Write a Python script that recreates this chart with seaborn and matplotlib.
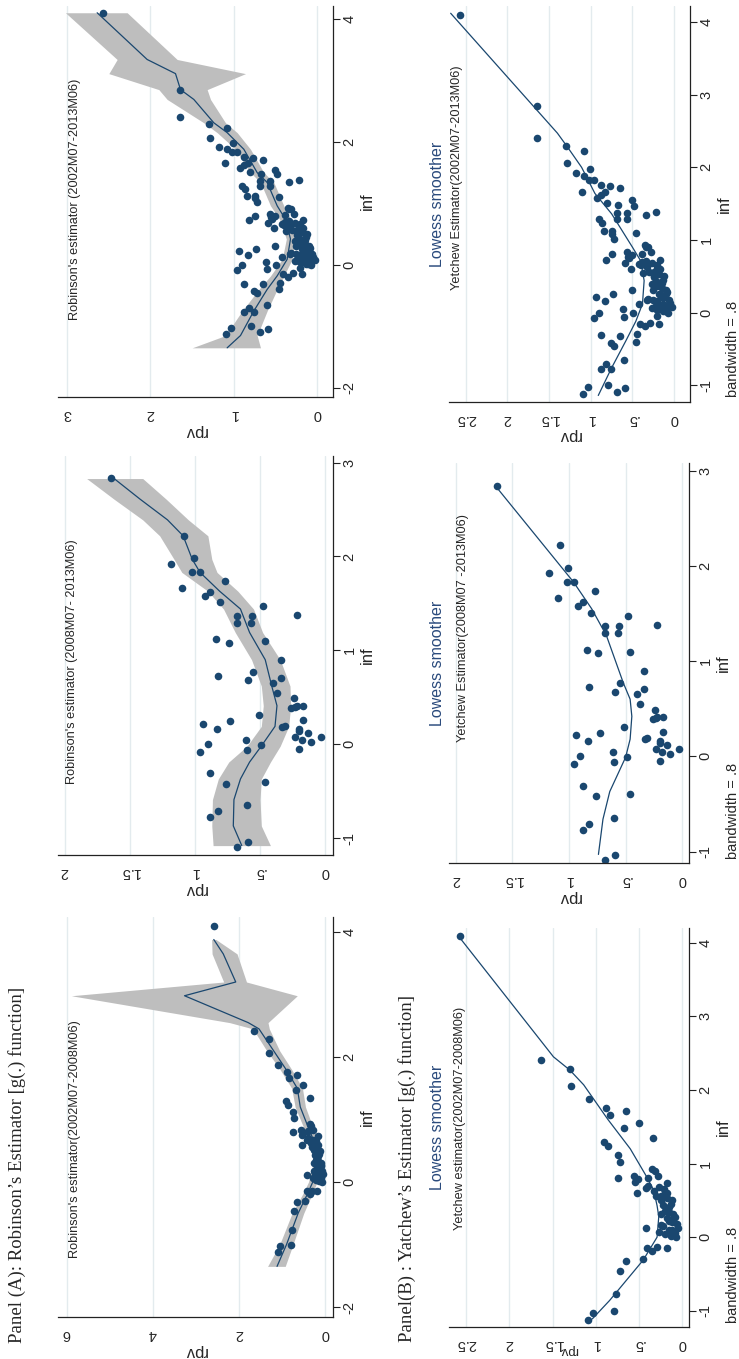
import numpy as np
import pandas as pd
import matplotlib
matplotlib.use("Agg")
import matplotlib.pyplot as plt
import seaborn as sns

sns.set_style("white")
plt.rcParams['font.family'] = ['Liberation Sans', 'DejaVu Sans']

NAVY = "#1a476f"
BAND = "#bebebe"
GRID = "#e3ebee"
W, H = 739, 1359

# --- scatter data: inf vs rpv, two sub-samples (full sample = both) ---
# 2002M07-2008M06
inf_a = [4.09, 2.41, 2.29, 2.06, 1.88, 1.76, 1.66, 1.71, 1.55, 1.48, 1.35, 1.29, 1.24, 1.12, 1.02,
         0.93, 0.90, 0.80, 0.83, 0.79, 0.75, 0.81, 0.83, 0.73, 0.67, 0.70, 0.60, 0.63, 0.68, 0.66,
         0.60, 0.56, 0.51, 0.53, 0.50, 0.41, 0.31, 0.34, 0.31, 0.28, 0.22, 0.21, 0.18, 0.17, 0.15,
         0.12, 0.10, 0.10, 0.06, 0.00, 0.07, -0.15, -0.19, -0.14, -0.15, -0.30, -0.32, -0.46, -0.77,
         -1.00, -1.03, -1.12, 0.62, 0.45, 0.36, 0.25, 0.26, 0.13, 0.04, 0.02, 0.56, 0.44]
rpv_a = [2.57, 1.64, 1.30, 1.29, 1.08, 0.88, 0.83, 0.65, 0.50, 0.67, 0.34, 0.90, 0.86, 0.74, 0.72,
         0.35, 0.31, 0.74, 0.56, 0.51, 0.54, 0.39, 0.28, 0.17, 0.42, 0.39, 0.52, 0.33, 0.27, 0.21,
         0.17, 0.24, 0.24, 0.18, 0.12, 0.15, 0.25, 0.15, 0.10, 0.08, 0.15, 0.12, 0.06, 0.25, 0.22,
         0.42, 0.15, 0.12, 0.08, 0.07, 0.27, 0.41, 0.35, 0.29, 0.18, 0.45, 0.65, 0.72, 0.76,
         0.79, 1.03, 1.09, 0.20, 0.13, 0.20, 0.10, 0.18, 0.05, 0.20, 0.13, 0.30, 0.22]
# 2008M07-2013M06
inf_b = [2.84, 2.22, 1.92, 1.98, 1.83, 1.83, 1.66, 1.74, 1.62, 1.58, 1.51, 1.47, 1.37, 1.37, 1.38,
         1.29, 1.29, 1.12, 1.08, 1.10, 0.90, 0.73, 0.77, 0.68, 0.71, 0.65, 0.55, 0.49, 0.39, 0.40,
         0.41, 0.41, 0.31, 0.26, 0.25, 0.22, 0.16, 0.18, 0.19, 0.16, 0.14, 0.12, 0.08, 0.08, 0.05,
         0.05, 0.00, -0.01, 0.02, -0.08, -0.06, -0.05, -0.31, -0.40, -0.42, -0.65, -0.71, -0.77,
         -1.04, -1.09]
rpv_b = [1.64, 1.08, 1.18, 1.01, 1.02, 0.96, 1.10, 0.77, 0.88, 0.92, 0.81, 0.48, 0.68, 0.56, 0.22,
         0.68, 0.57, 0.84, 0.74, 0.46, 0.34, 0.82, 0.55, 0.59, 0.34, 0.40, 0.37, 0.24, 0.26, 0.23,
         0.22, 0.17, 0.51, 0.17, 0.73, 0.94, 0.83, 0.33, 0.31, 0.20, 0.20, 0.13, 0.23, 0.03, 0.18,
         0.61, 0.90, 0.49, 0.11, 0.96, 0.60, 0.20, 0.88, 0.46, 0.76, 0.60, 0.82, 0.88,
         0.59, 0.68]

# --- Robinson's estimator g(.) with confidence band ---
rob_full_inf = [-1.35, -1.15, -0.75, -0.40, -0.18, 0.09, 0.42, 0.74, 0.96, 1.34, 1.50, 1.88, 2.15, 2.31, 2.69, 2.85, 3.11, 3.34, 4.10]
rob_full_fit = [1.08, 0.92, 0.76, 0.60, 0.48, 0.36, 0.32, 0.38, 0.48, 0.60, 0.72, 0.88, 1.08, 1.24, 1.48, 1.64, 1.70, 2.04, 2.64]
rob_full_lo = [0.68, 0.72, 0.60, 0.48, 0.40, 0.30, 0.27, 0.32, 0.40, 0.52, 0.64, 0.80, 0.96, 1.10, 1.28, 1.32, 0.86, 1.68, 2.28]
rob_full_hi = [1.50, 1.10, 0.90, 0.70, 0.56, 0.42, 0.37, 0.45, 0.56, 0.68, 0.80, 0.98, 1.20, 1.36, 1.80, 1.90, 2.50, 2.40, 3.02]

rob_b_inf = [-1.08, -0.87, -0.59, -0.37, -0.19, -0.02, 0.19, 0.41, 0.62, 0.90, 1.19, 1.44, 1.63, 1.83, 1.97, 2.22, 2.39, 2.61, 2.83]
rob_b_fit = [0.64, 0.705, 0.70, 0.65, 0.58, 0.49, 0.385, 0.37, 0.41, 0.46, 0.58, 0.65, 0.81, 0.96, 1.02, 1.09, 1.21, 1.42, 1.62]
rob_b_lo = [0.42, 0.49, 0.50, 0.49, 0.42, 0.345, 0.28, 0.265, 0.27, 0.345, 0.48, 0.55, 0.67, 0.83, 0.87, 0.90, 1.05, 1.22, 1.40]
rob_b_hi = [0.86, 0.87, 0.865, 0.82, 0.74, 0.60, 0.49, 0.475, 0.49, 0.565, 0.69, 0.78, 0.90, 1.10, 1.16, 1.27, 1.40, 1.62, 1.83]

rob_a_inf = [-1.35, -1.0, -0.5, -0.2, 0.0, 0.3, 0.6, 0.9, 1.2, 1.5, 1.8, 2.1, 2.45, 2.55, 2.98, 3.2, 3.65, 3.88]
rob_a_fit = [1.11, 0.89, 0.62, 0.41, 0.28, 0.17, 0.22, 0.40, 0.57, 0.64, 0.90, 1.19, 1.53, 1.78, 3.26, 2.07, 2.36, 2.58]
rob_a_lo = [0.92, 0.74, 0.49, 0.30, 0.18, 0.07, 0.12, 0.29, 0.45, 0.52, 0.77, 1.05, 1.29, 1.32, 0.64, 1.82, 2.04, 2.53]
rob_a_hi = [1.33, 1.05, 0.76, 0.52, 0.38, 0.27, 0.32, 0.51, 0.69, 0.77, 1.04, 1.35, 1.67, 2.21, 5.89, 2.35, 2.62, 2.63]

# --- Yatchew's estimator: lowess smoother (bandwidth .8) ---
low_full_inf = [-1.14, -0.76, -0.39, -0.12, 0.12, 0.44, 0.71, 0.90, 1.36, 1.64, 2.00, 2.28, 2.47, 4.12]
low_full_rpv = [0.91, 0.75, 0.58, 0.46, 0.38, 0.36, 0.40, 0.50, 0.75, 0.95, 1.11, 1.28, 1.40, 2.68]
low_b_inf = [-1.03, -0.66, -0.37, -0.01, 0.18, 0.42, 0.60, 0.77, 1.27, 1.55, 1.83, 2.84]
low_b_rpv = [0.74, 0.70, 0.64, 0.50, 0.46, 0.445, 0.46, 0.52, 0.67, 0.80, 0.96, 1.65]
low_a_inf = [-1.11, -0.86, -0.31, 0.00, 0.28, 0.43, 0.64, 0.82, 1.20, 1.60, 2.07, 2.27, 2.45, 4.06]
low_a_rpv = [1.04, 0.84, 0.45, 0.29, 0.27, 0.29, 0.33, 0.41, 0.60, 0.86, 1.14, 1.30, 1.49, 2.57]

df_a = pd.DataFrame({"inf": inf_a, "rpv": rpv_a})
df_b = pd.DataFrame({"inf": inf_b, "rpv": rpv_b})
df_full = pd.concat([df_a, df_b], ignore_index=True)


def stata_label(v):
    s = f"{v:g}"
    if s.startswith("0."):
        s = s[1:]
    return s


def make_axes(fig, x0, x1, y0, y1, xlim, ylim, xticks, yticks):
    ax = fig.add_axes([x0 / W, 1 - y1 / H, (x1 - x0) / W, (y1 - y0) / H])
    ax.set_xlim(*xlim)
    ax.set_ylim(*ylim)
    for t in xticks:
        ax.axvline(t, color=GRID, lw=1.0, zorder=0)
    ax.set_xticks(xticks)
    ax.set_xticklabels([stata_label(t) for t in xticks])
    ax.set_yticks(yticks)
    ax.set_yticklabels([stata_label(t) for t in yticks])
    ax.spines["left"].set_visible(False)
    ax.spines["top"].set_visible(False)
    for s in ["right", "bottom"]:
        ax.spines[s].set_linewidth(0.9)
        ax.spines[s].set_color("#222222")
    ax.yaxis.tick_right()
    ax.yaxis.set_label_position("right")
    ax.tick_params(axis="x", labelrotation=180, length=5, width=0.8, pad=2, labelsize=10.5, color="#222222")
    ax.tick_params(axis="y", labelrotation=90, length=5, width=0.8, pad=2, labelsize=10.5, color="#222222")
    for lab in ax.get_yticklabels():
        lab.set_va("center")
    ax.set_xlabel("rpv", rotation=180, fontsize=12, labelpad=2)
    ax.set_ylabel("inf", rotation=90, fontsize=12, labelpad=2)
    return ax


def robinson(ax, df, r_inf, r_fit, r_lo, r_hi):
    ax.fill_betweenx(r_inf, r_lo, r_hi, color=BAND, lw=0, zorder=1)
    sns.scatterplot(data=df, x="rpv", y="inf", ax=ax, color=NAVY, s=30, linewidth=0, zorder=2)
    sns.lineplot(x=r_fit, y=r_inf, sort=False, estimator=None, ax=ax, color=NAVY, lw=0.9, zorder=3)


def yatchew(ax, df, l_inf, l_rpv):
    sns.scatterplot(data=df, x="rpv", y="inf", ax=ax, color=NAVY, s=30, linewidth=0, zorder=2)
    sns.lineplot(x=l_rpv, y=l_inf, sort=False, estimator=None, ax=ax, color=NAVY, lw=0.9, zorder=3)


def ftext(fig, x, y, s, **kw):
    fig.text(x / W, 1 - y / H, s, rotation=90, ha="center", va="center", **kw)


fig = plt.figure(figsize=(W / 100, H / 100), dpi=100)

# Panel A: Robinson
ax = make_axes(fig, 58, 333, 6, 397, (3.11, -0.19), (-2.15, 4.21), [0, 1, 2, 3], [-2, 0, 2, 4])
robinson(ax, df_full, rob_full_inf, rob_full_fit, rob_full_lo, rob_full_hi)
ax = make_axes(fig, 58, 333, 456, 855, (2.05, -0.06), (-1.18, 3.07), [0, 0.5, 1, 1.5, 2], [-1, 0, 1, 2, 3])
robinson(ax, df_b, rob_b_inf, rob_b_fit, rob_b_lo, rob_b_hi)
ax = make_axes(fig, 58, 333, 917, 1317, (6.2, -0.19), (-2.16, 4.24), [0, 2, 4, 6], [-2, 0, 2, 4])
robinson(ax, df_a, rob_a_inf, rob_a_fit, rob_a_lo, rob_a_hi)

# Panel B: Yatchew
ax = make_axes(fig, 449, 690, 6, 402, (2.70, -0.19), (-1.23, 4.22), [0, 0.5, 1, 1.5, 2, 2.5], [-1, 0, 1, 2, 3, 4])
yatchew(ax, df_full, low_full_inf, low_full_rpv)
ax = make_axes(fig, 449, 689, 463, 863, (2.06, -0.06), (-1.12, 3.08), [0, 0.5, 1, 1.5, 2], [-1, 0, 1, 2, 3])
yatchew(ax, df_b, low_b_inf, low_b_rpv)
ax = make_axes(fig, 449, 689, 928, 1327, (2.70, -0.08), (-1.22, 4.20), [0, 0.5, 1, 1.5, 2, 2.5], [-1, 0, 1, 2, 3, 4])
yatchew(ax, df_a, low_a_inf, low_a_rpv)
# bottom edge of the page: keep the rpv title inside the canvas
ax.xaxis.label.set_fontsize(9.5)
ax.xaxis.label.set_va("center")
ax.xaxis.set_label_coords(0.5, -23 / 399)

# texts
serif = ["Liberation Serif", "DejaVu Serif"]
ftext(fig, 17, 1165, "Panel (A): Robinson\u2019s Estimator [g(.) function]", fontsize=13.5, family=serif)
ftext(fig, 407, 1168, "Panel(B) : Yatchew\u2019s Estimator [g(.) function]", fontsize=13.5, family=serif)

ftext(fig, 75, 199, "Robinson's estimator (2002M07-2013M06)", fontsize=9.2)
ftext(fig, 72, 662, "Robinson's estimator (2008M07- 2013M06)", fontsize=9.2)
ftext(fig, 75, 1139, "Robinson's estimator(2002M07-2008M06)", fontsize=9.2)

for yc_low, xs, ys, sub, yb in [(204, 457, 178, "Yetchew Estimator(2002M07-2013M06)", 349),
                               (663, 463, 628, "Yetchew Estimator(2008M07 -2013M06)", 811),
                               (1127, 460, 1118, "Yetchew estimator(2002M07-2008M06)", 1275)]:
    ftext(fig, 438, yc_low, "Lowess smoother", fontsize=11.5, color="#2a4a7c")
    ftext(fig, xs, ys, sub, fontsize=9.2)
    ftext(fig, 733, yb, "bandwidth = .8", fontsize=10.5)

fig.savefig("out.png", dpi=100)
